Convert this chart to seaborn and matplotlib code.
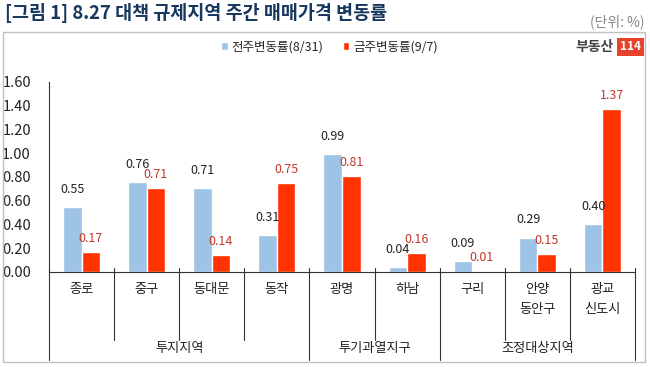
import pandas as pd
import matplotlib.pyplot as plt
import seaborn as sns
from matplotlib.patches import Rectangle

# chart data
regions = ['종로', '중구', '동대문', '동작', '광명', '하남', '구리', '안양\n동안구', '광교\n신도시']
prev_week = [0.55, 0.76, 0.71, 0.31, 0.99, 0.04, 0.09, 0.29, 0.40]
this_week = [0.17, 0.71, 0.14, 0.75, 0.81, 0.16, 0.01, 0.15, 1.37]
series_names = ['전주변동률(8/31)', '금주변동률(9/7)']
groups = ['투지지역', '투기과열지구', '조정대상지역']
group_sizes = [4, 2, 3]
y_ticks = [0.0, 0.2, 0.4, 0.6, 0.8, 1.0, 1.2, 1.4, 1.6]

sns.set_style('white')
plt.rcParams['font.family'] = ['Noto Sans CJK KR', 'DejaVu Sans']

df = pd.DataFrame({
    'region': regions * 2,
    'value': prev_week + this_week,
    'series': [series_names[0]] * len(regions) + [series_names[1]] * len(regions),
})

blue = '#9DC3E6'
red = '#FF3300'

fig = plt.figure(figsize=(6.5, 3.67), dpi=100)
ax = fig.add_axes([0.0754, 0.2589, 0.9015, 0.5177])

sns.barplot(data=df, x='region', y='value', hue='series', palette=[blue, red],
            width=0.57, saturation=1, ax=ax, legend=True)

ax.set_xlim(-0.5, len(regions) - 0.5)
ax.set_ylim(0, 1.6)
ax.set_yticks(y_ticks)
ax.set_yticklabels([f'{t:.2f}' for t in y_ticks], fontsize=10.5, color='#222222')
ax.tick_params(axis='y', direction='in', length=3, pad=13, color='#333333')
ax.set_xticks([])
ax.set_xlabel('')
ax.set_ylabel('')
for s in ['top', 'right']:
    ax.spines[s].set_visible(False)
ax.spines['left'].set_color('#333333')
ax.spines['bottom'].set_color('#333333')

# value labels
ax.bar_label(ax.containers[0], fmt='%.2f', padding=8, fontsize=9, color='#222222')
ax.bar_label(ax.containers[1], fmt='%.2f', padding=5, fontsize=9, color='#C0392B')

# category table under the axis
trans = ax.get_xaxis_transform()
for i in range(len(regions) + 1):
    ax.plot([i - 0.5, i - 0.5], [0.02, -0.358], transform=trans, color='#333333',
            lw=0.8, clip_on=False)
for i, r in enumerate(regions):
    ax.text(i, -0.06, r, transform=trans, ha='center', va='top', fontsize=9.5,
            linespacing=1.7, color='#222222')

start = 0
for g, n in zip(groups, group_sizes):
    ax.plot([start - 0.5, start - 0.5], [-0.358, -0.463], transform=trans,
            color='#333333', lw=0.8, clip_on=False)
    ax.text(start + n / 2 - 0.5, -0.405, g, transform=trans, ha='center',
            va='center', fontsize=9.5, color='#222222')
    start += n
ax.plot([start - 0.5, start - 0.5], [-0.358, -0.463], transform=trans,
        color='#333333', lw=0.8, clip_on=False)

# legend
handles, labels = ax.get_legend_handles_labels()
ax.legend(handles, labels, loc='center', bbox_to_anchor=(0.507, 0.872),
          bbox_transform=fig.transFigure, ncol=2, frameon=False, fontsize=9,
          handlelength=0.5, handleheight=0.5, handletextpad=0.3, columnspacing=1.6)

# outer frame, title and notes
fig.patches.append(Rectangle((0.0046, 0.0136), 0.988, 0.899, transform=fig.transFigure,
                             fill=False, edgecolor='#BFBFBF', lw=1))
fig.text(0.008, 0.965, '[그림 1] 8.27 대책 규제지역 주간 매매가격 변동률', fontsize=13.3,
         fontweight='bold', color='#17375E', va='center', ha='left')
fig.text(0.992, 0.94, '(단위: %)', fontsize=10, color='#888888', ha='right', va='center')
fig.text(0.944, 0.872, '부동산', fontsize=10, fontweight='bold', color='#444444',
         ha='right', va='center')
fig.text(0.970, 0.872, '114', fontsize=8.5, fontweight='bold', color='white',
         ha='center', va='center',
         bbox=dict(boxstyle='square,pad=0.25', facecolor='#E8412C', edgecolor='none'))

plt.savefig('out.png', dpi=100, facecolor='white')
plt.close()
